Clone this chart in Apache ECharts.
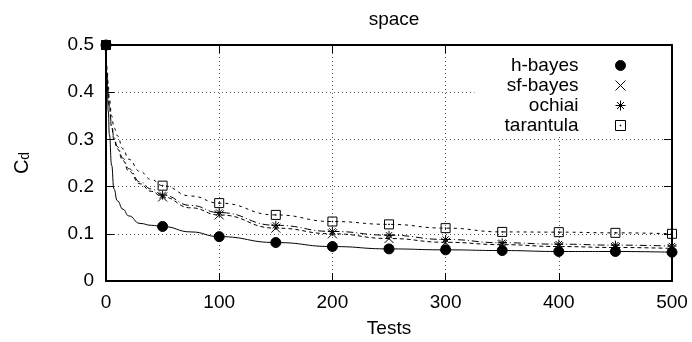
<!DOCTYPE html>
<html>
<head>
<meta charset="utf-8">
<script src="https://cdn.jsdelivr.net/npm/echarts@6/dist/echarts.min.js"></script>
<style>
  html, body { margin: 0; padding: 0; background: #fff; }
  #main { width: 692px; height: 342px; }
</style>
</head>
<body>
<div id="main"></div>
<script>
// number of tests (x) where the curves were read
const tests = [0, 1, 2, 3, 5, 7, 10, 15, 20, 30, 40, 50, 75, 100, 150, 200, 250, 300, 350, 400, 450, 500];
// C_d values
const hBayes = [0.5, 0.42, 0.36, 0.31, 0.245, 0.195, 0.17, 0.152, 0.138, 0.122, 0.118, 0.1155, 0.104, 0.094, 0.0815, 0.073, 0.068, 0.066, 0.0645, 0.0625, 0.0625, 0.061];
const sfBayes = [0.5, 0.435, 0.395, 0.365, 0.325, 0.3, 0.28, 0.255, 0.233, 0.206, 0.19, 0.178, 0.155, 0.14, 0.112, 0.1, 0.09, 0.082, 0.077, 0.073, 0.071, 0.069];
const ochiai = [0.5, 0.44, 0.4, 0.37, 0.33, 0.305, 0.285, 0.26, 0.238, 0.21, 0.195, 0.182, 0.16, 0.145, 0.118, 0.105, 0.097, 0.088, 0.081, 0.078, 0.076, 0.074];
const tarantula = [0.5, 0.45, 0.415, 0.385, 0.35, 0.325, 0.308, 0.28, 0.258, 0.232, 0.215, 0.202, 0.18, 0.165, 0.14, 0.126, 0.12, 0.112, 0.104, 0.1035, 0.102, 0.1];

const names = ["h-bayes", "sf-bayes", "ochiai", "tarantula"];
const values = [hBayes, sfBayes, ochiai, tarantula];
const dashes = ["solid", [4, 3], [7, 3, 1, 3], [3, 4]];
const symbols = [
  "circle",
  "path://M0,0L10,10M10,0L0,10",
  "path://M5,0L5,10M0,5L10,5M1.5,1.5L8.5,8.5M8.5,1.5L1.5,8.5",
  "path://M0,0L10,0L10,10L0,10ZM4.6,4.6L5.4,4.6L5.4,5.4L4.6,5.4Z"
];
const fills = ["#000", "#000", "#000", "rgba(0,0,0,0)"];

const font = "Liberation Sans, Arial, Helvetica, sans-serif";
const chart = echarts.init(document.getElementById("main"));

const series = [];
values.forEach((vals, i) => {
  const pts = tests.map((t, j) => [t, vals[j]]);
  series.push({
    name: names[i] + "-line",
    type: "line",
    data: pts,
    showSymbol: false,
    smooth: true,
    smoothMonotone: "x",
    lineStyle: { color: "#000", width: 1, type: dashes[i] },
    silent: true,
    z: 2
  });
  series.push({
    name: names[i],
    type: "scatter",
    data: pts.filter(p => p[0] % 50 === 0),
    symbol: symbols[i],
    symbolSize: i === 0 ? 10 : 9,
    itemStyle: { color: fills[i], borderColor: "#000", borderWidth: 1, opacity: 1 },
    z: 3
  });
});

const baseX = {
  type: "value", min: 0, max: 500, interval: 100,
  axisLine: { onZero: false, lineStyle: { color: "#000", width: 2 } },
  axisTick: { inside: true, length: 8, lineStyle: { color: "#000", width: 1 } }
};
const baseY = {
  type: "value", min: 0, max: 0.5, interval: 0.1,
  axisLine: { onZero: false, lineStyle: { color: "#000", width: 2 } },
  axisTick: { inside: true, length: 8, lineStyle: { color: "#000", width: 1 } }
};
const dotted = { show: true, lineStyle: { color: "#555", width: 1, type: [1, 3] } };

chart.setOption({
  animation: false,
  backgroundColor: "#fff",
  textStyle: { fontFamily: font },
  title: {
    text: "space", left: 389, top: 5, textAlign: "center",
    textStyle: { fontSize: 19, fontWeight: "normal", color: "#000", fontFamily: font }
  },
  grid: { left: 106, right: 20, top: 45, bottom: 61, outerBoundsMode: "none", containLabel: false },
  legend: {
    data: names,
    orient: "vertical",
    align: "right",
    right: 21,
    top: 46,
    padding: [10, 45, 2, 30],
    itemWidth: 74,
    itemHeight: 10,
    itemGap: 1,
    backgroundColor: "#fff",
    itemStyle: { borderWidth: 1, opacity: 1 },
    textStyle: { fontSize: 19, color: "#000", fontFamily: font }
  },
  xAxis: [
    Object.assign({}, baseX, {
      position: "bottom",
      name: "Tests", nameLocation: "middle", nameGap: 38,
      nameTextStyle: { fontSize: 19, color: "#000", fontFamily: font },
      axisLabel: { fontSize: 19, color: "#000", margin: 12, fontFamily: font },
      splitLine: dotted
    }),
    Object.assign({}, baseX, {
      position: "top",
      axisLabel: { show: false },
      splitLine: { show: false }
    })
  ],
  yAxis: [
    Object.assign({}, baseY, {
      position: "left",
      name: "{c|C}{d|d}", nameLocation: "middle", nameGap: 74, nameRotate: 90,
      nameTextStyle: {
        color: "#000", fontFamily: font,
        rich: {
          c: { fontSize: 20, verticalAlign: "top", lineHeight: 20, fontFamily: font, color: "#000" },
          d: { fontSize: 14, verticalAlign: "bottom", lineHeight: 14, padding: [16, 0, 0, 0], fontFamily: font, color: "#000" }
        }
      },
      axisLabel: { fontSize: 19, color: "#000", margin: 12, fontFamily: font },
      splitLine: dotted
    }),
    Object.assign({}, baseY, {
      position: "right",
      axisLabel: { show: false },
      splitLine: { show: false }
    })
  ],
  series: series
});
</script>
</body>
</html>
